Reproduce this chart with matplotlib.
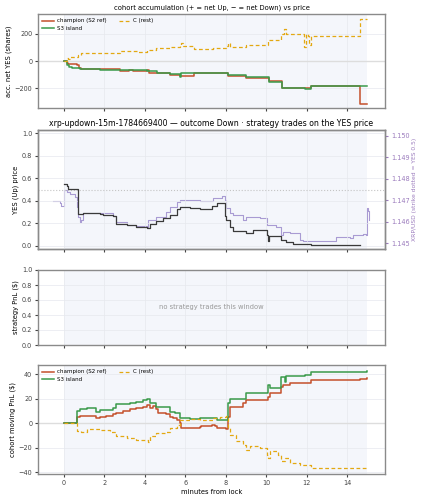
import numpy as np
import matplotlib
matplotlib.use("Agg")
import matplotlib.pyplot as plt

# ---------------- data ----------------
# panel 1: cohort accumulation (net YES shares)
champ_acc_t = [0, 0.13, 0.2, 0.66, 0.76, 0.87, 1.78, 2.77, 3.2, 3.4, 4.1, 4.2, 4.75, 5.24, 5.73, 6.42, 8.04, 8.12, 9.03, 10.15, 10.8, 12.24, 14.63, 15.0]
champ_acc_v = [0, -14, -21, -26, -50, -57, -62, -71, -69, -76, -69, -86, -90, -102, -112, -88, -90, -109, -124, -150, -200, -181, -312, -312]
s3_acc_t = [0, 0.13, 0.25, 0.38, 0.71, 0.79, 1.78, 2.6, 3.4, 4.1, 4.6, 5.24, 5.73, 5.78, 6.44, 8.04, 8.12, 9.03, 10.15, 10.8, 11.9, 12.24, 15.0]
s3_acc_v = [0, -26, -43, -50, -52, -57, -64, -66, -69, -76, -86, -98, -121, -90, -86, -90, -105, -121, -157, -195, -205, -186, -186]
c_acc_t = [0, 0.13, 0.21, 0.3, 0.71, 0.87, 1.78, 2.77, 3.6, 4.1, 4.58, 5.24, 5.73, 5.78, 5.9, 6.44, 7.38, 8.04, 8.12, 8.21, 8.53, 9.03, 10.07, 10.76, 10.88, 10.98, 11.8, 11.86, 11.99, 12.07, 12.14, 12.2, 12.4, 12.5, 14.55, 14.63, 15.0]
c_acc_v = [0, 19, 14, 33, 45, 57, 62, 76, 69, 81, 93, 105, 117, 135, 110, 86, 93, 110, 130, 105, 105, 114, 152, 200, 236, 200, 200, 105, 200, 181, 118, 181, 181, 181, 181, 307, 307]

# panel 2: YES (Up) price and XRP/USD
yes_t = [0, 0.13, 0.21, 0.68, 0.79, 0.96, 1.78, 1.94, 2.44, 2.6, 3.1, 3.59, 4.1, 4.25, 4.58, 4.9, 5.24, 5.57, 5.73, 6.23, 6.72, 7.3, 7.55, 7.96, 8.04, 8.21, 8.37, 9.03, 9.36, 10.02, 10.1, 10.13, 10.18, 10.68, 10.76, 11.0, 11.33, 12.24, 14.63]
yes_v = [0.547, 0.527, 0.506, 0.28, 0.28, 0.29, 0.284, 0.275, 0.26, 0.195, 0.183, 0.166, 0.157, 0.195, 0.216, 0.245, 0.275, 0.325, 0.343, 0.334, 0.325, 0.349, 0.379, 0.26, 0.23, 0.17, 0.133, 0.112, 0.142, 0.098, 0.04, 0.083, 0.089, 0.083, 0.053, 0.03, 0.018, 0.003, 0.003]
xrp_t = [-0.53, -0.2, -0.12, 0.0, 0.13, 0.3, 0.54, 0.63, 0.71, 0.79, 0.84, 0.96, 1.78, 2.44, 2.6, 3.1, 3.59, 4.1, 4.17, 4.58, 5.07, 5.24, 5.57, 5.73, 6.72, 7.38, 7.8, 7.96, 8.04, 8.21, 8.37, 8.86, 9.03, 9.68, 10.02, 10.5, 10.76, 10.84, 11.17, 11.66, 11.83, 13.32, 13.48, 14.13, 14.3, 14.8, 14.96, 15.0, 15.05, 15.09]
xrp_v = [1.14697, 1.14689, 1.14673, 1.14748, 1.14740, 1.14729, 1.14714, 1.14670, 1.14624, 1.14600, 1.14608, 1.14642, 1.14639, 1.14627, 1.14600, 1.14585, 1.14580, 1.14574, 1.14608, 1.14624, 1.14647, 1.14667, 1.14694, 1.14701, 1.14698, 1.14709, 1.14720, 1.14701, 1.14663, 1.14639, 1.14632, 1.14608, 1.14620, 1.14615, 1.14585, 1.14577, 1.14539, 1.14554, 1.14546, 1.14515, 1.14508, 1.14508, 1.14528, 1.14525, 1.14539, 1.14542, 1.14539, 1.14663, 1.14650, 1.14608]
strike = 1.1475

# panel 4: cohort moving PnL ($)
champ_pnl_t = [0, 0.66, 0.8, 1.6, 1.78, 2.1, 2.44, 2.6, 2.93, 3.26, 3.59, 3.92, 4.1, 4.25, 4.42, 4.58, 4.67, 5.07, 5.24, 5.4, 5.57, 5.73, 5.8, 6.72, 6.8, 7.3, 7.46, 7.55, 8.04, 8.12, 8.2, 8.86, 9.03, 10.1, 10.18, 10.76, 10.84, 11.17, 12.24, 14.63, 15.0]
champ_pnl_v = [0, 5.4, 6.0, 4.6, 5.1, 6.0, 7.3, 8.6, 10.0, 11.4, 12.2, 13.5, 14.9, 12.7, 14.0, 11.4, 8.1, 7.3, 5.4, 4.0, 2.7, 0.0, -4.0, -3.5, -2.7, -1.4, -2.7, -4.0, -4.9, 5.4, 13.5, 16.8, 18.9, 21.6, 24.3, 29.7, 31.0, 32.4, 35.1, 36.0, 36.5]
s3_pnl_t = [0, 0.66, 0.79, 1.12, 1.6, 1.78, 2.44, 2.6, 3.26, 3.59, 3.92, 4.1, 4.25, 4.58, 5.07, 5.24, 5.5, 5.73, 6.23, 6.72, 7.05, 7.38, 7.55, 8.04, 8.12, 8.2, 9.03, 10.02, 10.1, 10.18, 10.76, 10.93, 11.0, 11.9, 12.24, 13.32, 15.0]
s3_pnl_v = [0, 10.3, 11.4, 12.2, 9.5, 10.8, 12.2, 15.4, 16.8, 17.6, 18.9, 19.7, 16.2, 13.5, 13.0, 9.5, 8.1, 4.0, 3.2, 4.0, 4.6, 4.0, 2.2, 2.2, 16.2, 19.5, 24.3, 24.3, 31.0, 28.4, 37.3, 33.8, 38.4, 39.7, 41.4, 41.9, 42.4]
c_pnl_t = [0, 0.66, 0.87, 1.12, 1.78, 2.27, 2.6, 3.1, 3.59, 4.1, 4.18, 4.25, 4.58, 5.07, 5.24, 5.57, 5.73, 6.23, 6.72, 7.38, 7.71, 8.04, 8.12, 8.2, 8.53, 8.86, 9.03, 9.2, 9.68, 10.02, 10.08, 10.18, 10.59, 10.76, 10.93, 11.17, 11.66, 12.24, 15.0]
c_pnl_v = [0, -6.0, -6.8, -4.9, -5.4, -6.8, -10.8, -12.2, -13.5, -14.0, -15.5, -10.8, -8.1, -7.6, -4.0, -1.4, 2.7, 3.2, 2.7, 4.0, 5.4, 6.0, -4.0, -9.5, -14.9, -17.6, -21.6, -18.9, -20.3, -25.7, -28.5, -23.0, -25.7, -31.0, -28.4, -32.4, -33.8, -36.5, -37.0]

# ---------------- style ----------------
C_CHAMP = "#c4502b"
C_S3 = "#3a9a4a"
C_REST = "#e3a812"
C_YES = "#3a3a3a"
C_XRP = "#a99bd3"
C_RIGHT = "#9b7bbd"
SPAN = "#f4f6fb"
SPINE = "#8a8a8a"
FS = 4.7

plt.rcParams.update({
    "font.family": ["DejaVu Sans"],
    "font.size": FS,
    "axes.titlesize": 4.9,
    "axes.labelsize": 4.9,
    "xtick.labelsize": FS,
    "ytick.labelsize": FS,
    "axes.edgecolor": SPINE,
    "axes.linewidth": 1.0,
    "xtick.color": "#444444",
    "ytick.color": "#444444",
    "xtick.major.size": 2.2,
    "ytick.major.size": 2.2,
    "xtick.major.pad": 2,
    "ytick.major.pad": 2,
    "axes.labelpad": 2,
})

fig = plt.figure(figsize=(4.23, 5.0), dpi=100)
lefts = 38 / 423
width = (385 - 38) / 423

def box(top, bottom):
    return [lefts, 1 - bottom / 500, width, (bottom - top) / 500]

ax1 = fig.add_axes(box(14, 108))
ax2 = fig.add_axes(box(130, 249), sharex=ax1)
ax3 = fig.add_axes(box(270, 345), sharex=ax1)
ax4 = fig.add_axes(box(365, 474), sharex=ax1)

ax2r = ax2.twinx()
ax2.set_zorder(ax2r.get_zorder() + 1)
ax2.patch.set_visible(False)

for ax in (ax1, ax2r, ax3, ax4):
    ax.axvspan(0, 15, color=SPAN, zorder=0, lw=0)
for ax in (ax1, ax2, ax3, ax4):
    ax.grid(True, color="#e6e8ee", lw=0.5, zorder=0.5)
    ax.set_axisbelow(True)

leg_kw = dict(loc="upper left", ncol=2, frameon=False, fontsize=4.0, handlelength=2.0,
              columnspacing=2.2, borderaxespad=0.4, labelspacing=0.45, handletextpad=0.6)

# panel 1
ax1.axhline(0, color="#dddddd", lw=1.0, zorder=1)
ax1.step(champ_acc_t, champ_acc_v, where="post", color=C_CHAMP, lw=1.1, label="champion (S2 ref)", zorder=3)
ax1.step(s3_acc_t, s3_acc_v, where="post", color=C_S3, lw=1.1, label="S3 island", zorder=3)
ax1.step(c_acc_t, c_acc_v, where="post", color=C_REST, lw=0.9, ls="--", dashes=(3, 2), label="C (rest)", zorder=3)
ax1.set_ylabel("acc. net YES (shares)")
ax1.set_title("cohort accumulation (+ = net Up, \u2212 = net Down) vs price", pad=3)
ax1.legend(**leg_kw)
ax1.set_yticks([-200, 0, 200])
ax1.set_ylim(-345, 345)

# panel 2
ax2.axhline(0.5, color="#c4c4c4", lw=0.8, ls=":", zorder=1)
ax2.step(yes_t, yes_v, where="post", color=C_YES, lw=0.9, zorder=4)
ax2.set_ylim(-0.03, 1.03)
ax2.set_yticks([0.0, 0.2, 0.4, 0.6, 0.8, 1.0])
ax2.set_ylabel("YES (Up) price")
ax2.set_title("xrp-updown-15m-1784669400 \u2014 outcome Down \u00b7 strategy trades on the YES price", pad=3, fontsize=5.55)
ax2r.step(xrp_t, xrp_v, where="post", color=C_XRP, lw=0.8, zorder=2)
k = 0.005236
ax2r.set_ylim(strike - 0.53 * k, strike + 0.53 * k)
ax2r.set_yticks([1.145, 1.146, 1.147, 1.148, 1.149, 1.150])
ax2r.set_yticklabels(["1.145", "1.146", "1.147", "1.148", "1.149", "1.150"])
ax2r.tick_params(axis="y", colors=C_RIGHT, labelsize=FS)
ax2r.set_ylabel("XRP/USD (strike dotted = YES 0.5)", color=C_RIGHT, fontsize=4.3)
for s in ax2r.spines.values():
    s.set_color(SPINE)

# panel 3
ax3.set_ylim(0, 1)
ax3.set_yticks([0.0, 0.2, 0.4, 0.6, 0.8, 1.0])
ax3.set_ylabel("strategy PnL ($)")
ax3.text(0.5, 0.5, "no strategy trades this window", transform=ax3.transAxes,
         ha="center", va="center", color="#999999", fontsize=4.9)

# panel 4
ax4.axhline(0, color="#dddddd", lw=1.0, zorder=1)
ax4.step(champ_pnl_t, champ_pnl_v, where="post", color=C_CHAMP, lw=1.1, label="champion (S2 ref)", zorder=3)
ax4.step(s3_pnl_t, s3_pnl_v, where="post", color=C_S3, lw=1.1, label="S3 island", zorder=3)
ax4.step(c_pnl_t, c_pnl_v, where="post", color=C_REST, lw=0.9, ls="--", dashes=(3, 2), label="C (rest)", zorder=3)
ax4.set_ylabel("cohort moving PnL ($)")
ax4.set_xlabel("minutes from lock")
ax4.legend(**leg_kw)
ax4.set_yticks([-40, -20, 0, 20, 40])
ax4.set_ylim(-41.5, 47.5)

ax4.set_xlim(-1.28, 15.88)
ax4.set_xticks([0, 2, 4, 6, 8, 10, 12, 14])
for ax in (ax1, ax2, ax3):
    ax.tick_params(labelbottom=False)

fig.savefig("out.png", dpi=100)
